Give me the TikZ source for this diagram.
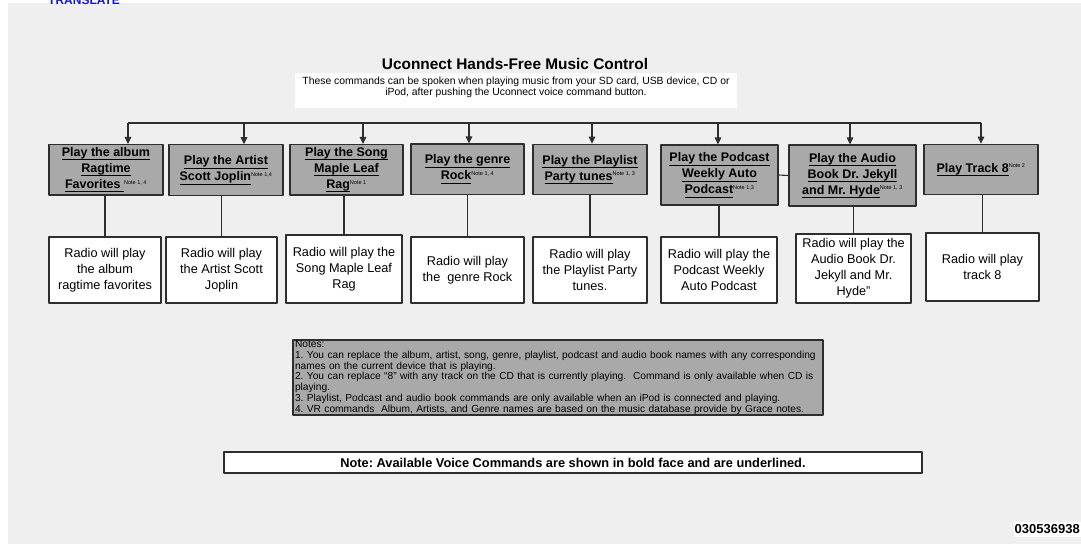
\documentclass[tikz,border=0pt]{standalone}
\usepackage{fontspec}
\setmainfont{Liberation Sans}
\usetikzlibrary{arrows.meta}
\definecolor{pagegray}{HTML}{EFEFEF}
\definecolor{cmdgray}{HTML}{A9A9A9}
\definecolor{boxedge}{HTML}{2E2E2E}
\definecolor{linkblue}{HTML}{1414E0}

\frenchspacing
\newcommand{\cmdline}[1]{\underline{\raisebox{0pt}[\height][1.6pt]{#1}}}
\newcommand{\notetag}[1]{\textsuperscript{\normalfont\fontsize{5.5}{6}\selectfont #1}}

\begin{document}
\begin{tikzpicture}[
  x=1pt,
  y=-1pt,
  line join=round,
  cmd/.style={draw=boxedge,line width=1.1pt,fill=cmdgray,align=center,inner sep=0pt,
    minimum width=114pt,minimum height=50.5pt,font=\bfseries\fontsize{12.5}{16}\selectfont},
  result/.style={draw=boxedge,line width=1.1pt,fill=white,align=center,inner sep=0pt,
    minimum width=113pt,minimum height=66pt,font=\fontsize{12.7}{16}\selectfont},
  link/.style={draw=boxedge,line width=1.1pt},
  arrow/.style={link,-{Triangle[length=7pt,width=6.5pt]}}
]
  \useasboundingbox (0,0) rectangle (1081,544);

  % Page and the grey sheet behind the chart.
  \fill[white] (0,0) rectangle (1081,544);
  \fill[pagegray] (8,3) rectangle (1081,544);
  \node[anchor=base west,inner sep=0pt,text=linkblue,font=\bfseries\fontsize{12}{14}\selectfont] (translate) at (48,4) {TRANSLATE};

  % Heading.
  \node[font=\bfseries\fontsize{15.4}{18}\selectfont] (title) at (515,64) {Uconnect Hands-Free Music Control};
  \node[fill=white,minimum width=442pt,minimum height=35pt] (introbox) at (516,90.5) {};
  \node[align=center,inner sep=0pt,font=\fontsize{10.4}{11.2}\selectfont] (intro) at (516,87.5)
    {These commands can be spoken when playing music from your SD card, USB device, CD or\\
     iPod, after pushing the Uconnect voice command button.};

  % Voice commands (bold, underlined).
  \node[cmd] (cmd1) at (106,169.75) {\cmdline{Play the album}\\\cmdline{Ragtime}\\\cmdline{Favorites }\notetag{Note 1, 4}};
  \node[cmd] (cmd2) at (226,170) {\cmdline{Play the Artist}\\\cmdline{Scott Joplin}\notetag{Note 1,4}};
  \node[cmd,minimum width=113pt] (cmd3) at (346.5,169.75) {\cmdline{Play the Song}\\\cmdline{Maple Leaf}\\\cmdline{Rag}\notetag{Note 1}};
  \node[cmd,minimum width=113pt] (cmd4) at (467.5,169.25) {\cmdline{Play the genre}\\\cmdline{Rock}\notetag{Note 1, 4}};
  \node[cmd] (cmd5) at (590,169.5) {\cmdline{Play the Playlist}\\\cmdline{Party tunes}\notetag{Note 1, 3}};
  \node[cmd,minimum width=117pt,minimum height=60pt] (cmd6) at (719.5,175) {\cmdline{Play the Podcast}\\\cmdline{Weekly Auto}\\\cmdline{Podcast}\notetag{Note 1,3}};
  \node[cmd,minimum width=127pt,minimum height=61pt] (cmd7) at (852.5,175.5) {\cmdline{Play the Audio}\\\cmdline{Book Dr. Jekyll}\\\cmdline{and Mr. Hyde}\notetag{Note 1, 3}};
  \node[cmd] (cmd8) at (981,169.5) {\cmdline{Play Track 8}\notetag{Note 2}};

  % What the radio answers.
  \node[result,minimum width=112pt] (res1) at (105,270) {Radio will play\\the album\\ragtime favorites};
  \node[result,minimum width=111pt] (res2) at (221.5,270) {Radio will play\\the Artist Scott\\Joplin};
  \node[result,minimum width=116pt,minimum height=68pt] (res3) at (344,269) {Radio will play the\\Song Maple Leaf\\Rag};
  \node[result] (res4) at (467.5,270) {Radio will play\\the\ \ genre Rock};
  \node[result,minimum width=114pt] (res5) at (590,270) {Radio will play\\the Playlist Party\\tunes.};
  \node[result,minimum width=116pt] (res6) at (719,270) {Radio will play the\\Podcast Weekly\\Auto Podcast};
  \node[result,minimum width=115pt,minimum height=69pt] (res7) at (853.5,268.5) {Radio will play the\\Audio Book Dr.\\Jekyll and Mr.\\Hyde”};
  \node[result,minimum height=68pt] (res8) at (982.5,267) {Radio will play\\track 8};

  % Bus with a drop arrow into each command.
  \foreach \i/\x in {1/128,2/244,3/363,4/469,5/592,6/718,7/850,8/981} {
    \coordinate (drop\i) at (\x,123);
    \draw[arrow] (drop\i) -- (drop\i |- cmd\i.north);
  }
  \draw[link] (drop1) -- (drop8);

  % Command to answer.
  \foreach \i in {1,...,8} {
    \draw[link] (res\i.north) -- (res\i.north |- cmd\i.south);
  }
  \draw[link] (cmd6.east) -- (cmd7.west);

  % Footnotes.
  \node[draw=boxedge,line width=1.1pt,fill=cmdgray,minimum width=530pt,minimum height=75pt,
    text width=526pt,align=left,inner xsep=2pt,inner ysep=0pt,font=\fontsize{10.2}{10.7}\selectfont] (notes) at (558,377.5)
    {Notes:\\
     1. You can replace the album, artist, song, genre, playlist, podcast and audio book names with any corresponding\\
     names on the current device that is playing.\\
     2. You can replace “8” with any track on the CD that is currently playing.\ \ Command is only available when CD is\\
     playing.\\
     3. Playlist, Podcast and audio book commands are only available when an iPod is connected and playing.\\
     4. VR commands\ \ Album, Artists, and Genre names are based on the music database provide by Grace notes.};

  \node[draw=boxedge,line width=1.1pt,fill=white,minimum width=698pt,minimum height=21pt,
    font=\bfseries\fontsize{12.8}{14}\selectfont] (legend) at (573,462.5)
    {Note: Available Voice Commands are shown in bold face and are underlined.};

  \node[fill=white,anchor=east,inner xsep=1pt,inner ysep=0pt,minimum height=15pt,
    font=\bfseries\fontsize{13}{15}\selectfont] (code) at (1081,529.5) {030536938};
\end{tikzpicture}
\end{document}
